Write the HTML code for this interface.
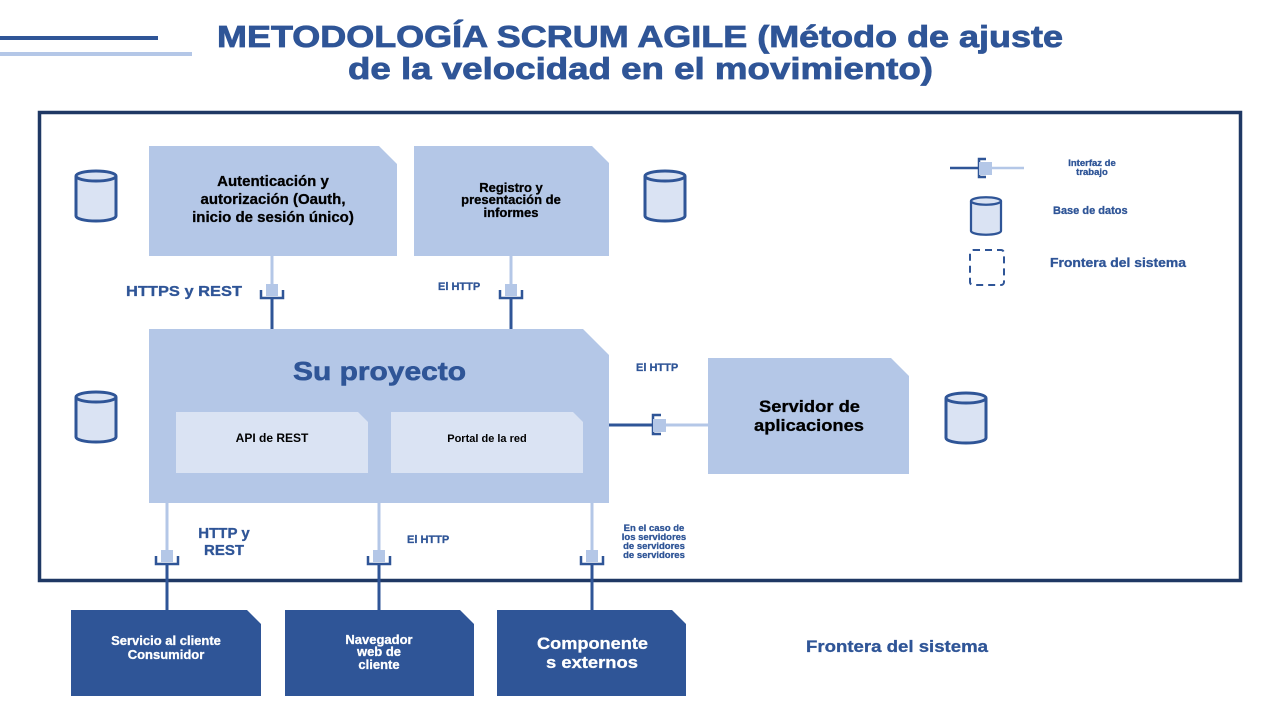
<!DOCTYPE html>
<html><head><meta charset="utf-8"><style>
html,body{margin:0;padding:0;background:#fff;}
svg{display:block;font-family:"Liberation Sans",sans-serif;font-weight:bold;}
</style></head><body>
<svg width="1280" height="720" viewBox="0 0 1280 720" xmlns="http://www.w3.org/2000/svg">
<defs>
<g id="cyl">
<path d="M-20,-20 L-20,20 A20,5 0 0 0 20,20 L20,-20" fill="#dae3f3" stroke="#2f5597" stroke-width="3"/>
<ellipse cx="0" cy="-20" rx="20" ry="5" fill="#dae3f3" stroke="#2f5597" stroke-width="3"/>
</g>
<g id="plugHead">
<rect x="-6" y="-6" width="12" height="12" fill="#b4c7e7"/>
<path d="M-11,0 L-11,8 L11,8 L11,0" fill="none" stroke="#2f5597" stroke-width="2.5"/>
</g>
</defs>
<rect width="1280" height="720" fill="#fff"/>
<line x1="0" y1="38" x2="158" y2="38" stroke="#2f5597" stroke-width="4"/>
<line x1="0" y1="54" x2="192" y2="54" stroke="#b4c7e7" stroke-width="4"/>
<g fill="#2f5597" stroke="#2f5597" stroke-width="0.8">
<text x="217" y="47" font-size="31" textLength="846" lengthAdjust="spacingAndGlyphs">METODOLOGÍA SCRUM AGILE (Método de ajuste</text>
<text x="348" y="79" font-size="31" textLength="585" lengthAdjust="spacingAndGlyphs">de la velocidad en el movimiento)</text>
</g>

<rect x="39.5" y="112.5" width="1201" height="468" fill="none" stroke="#1f3864" stroke-width="3.5"/>

<polygon points="149,146 379,146 397,164 397,256 149,256" fill="#b4c7e7"/>
<text text-anchor="middle" font-size="15" fill="#000" stroke="#000" stroke-width="0.3"><tspan x="273" y="186">Autenticación y</tspan><tspan x="273" y="204">autorización (Oauth,</tspan><tspan x="273" y="222">inicio de sesión único)</tspan></text>
<polygon points="414,146 592,146 609,163 609,256 414,256" fill="#b4c7e7"/>
<text text-anchor="middle" font-size="13" fill="#000" stroke="#000" stroke-width="0.3"><tspan x="511" y="192">Registro y</tspan><tspan x="511" y="204">presentación de</tspan><tspan x="511" y="217">informes</tspan></text>

<polygon points="149,329 583,329 609,355 609,503 149,503" fill="#b4c7e7"/>
<text x="293" y="380" font-size="26" fill="#2f5597" stroke="#2f5597" stroke-width="0.6" textLength="173" lengthAdjust="spacingAndGlyphs">Su proyecto</text>
<polygon points="176,412 358,412 368,422 368,473 176,473" fill="#dae3f3"/>
<text x="272" y="442" text-anchor="middle" font-size="12" fill="#000">API de REST</text>
<polygon points="391,412 573,412 583,422 583,473 391,473" fill="#dae3f3"/>
<text x="487" y="442" text-anchor="middle" font-size="11" fill="#000">Portal de la red</text>

<polygon points="708,358 891,358 909,376 909,474 708,474" fill="#b4c7e7"/>
<text font-size="17" fill="#000" stroke="#000" stroke-width="0.3"><tspan x="759" y="412" textLength="101" lengthAdjust="spacingAndGlyphs">Servidor de</tspan><tspan x="754" y="431" textLength="110" lengthAdjust="spacingAndGlyphs">aplicaciones</tspan></text>

<polygon points="71,610 247,610 261,624 261,696 71,696" fill="#2f5597"/>
<text text-anchor="middle" font-size="13" fill="#fff" stroke="#fff" stroke-width="0.3"><tspan x="166" y="645">Servicio al cliente</tspan><tspan x="166" y="659">Consumidor</tspan></text>
<polygon points="285,610 460,610 474,624 474,696 285,696" fill="#2f5597"/>
<text text-anchor="middle" font-size="13" fill="#fff" stroke="#fff" stroke-width="0.3"><tspan x="379" y="644">Navegador</tspan><tspan x="379" y="656">web de</tspan><tspan x="379" y="669">cliente</tspan></text>
<polygon points="497,610 672,610 686,624 686,696 497,696" fill="#2f5597"/>
<text font-size="17" fill="#fff" stroke="#fff" stroke-width="0.3"><tspan x="537" y="649" textLength="111" lengthAdjust="spacingAndGlyphs">Componente</tspan><tspan x="546" y="668" textLength="92" lengthAdjust="spacingAndGlyphs">s externos</tspan></text>

<use href="#cyl" x="96" y="196"/>
<use href="#cyl" x="665" y="196"/>
<use href="#cyl" x="96" y="417"/>
<use href="#cyl" x="966" y="418"/>
<g transform="translate(986,216) scale(0.75)"><use href="#cyl"/></g>

<!-- top connectors -->
<g stroke-width="3">
<line x1="272" y1="256" x2="272" y2="284" stroke="#b4c7e7"/>
<line x1="272" y1="298" x2="272" y2="329" stroke="#2f5597"/>
<line x1="511" y1="256" x2="511" y2="284" stroke="#b4c7e7"/>
<line x1="511" y1="298" x2="511" y2="329" stroke="#2f5597"/>
<line x1="167" y1="503" x2="167" y2="550" stroke="#b4c7e7"/>
<line x1="167" y1="564" x2="167" y2="610" stroke="#2f5597"/>
<line x1="379" y1="503" x2="379" y2="550" stroke="#b4c7e7"/>
<line x1="379" y1="564" x2="379" y2="610" stroke="#2f5597"/>
<line x1="592" y1="503" x2="592" y2="550" stroke="#b4c7e7"/>
<line x1="592" y1="564" x2="592" y2="610" stroke="#2f5597"/>
</g>
<use href="#plugHead" x="272" y="290"/>
<use href="#plugHead" x="511" y="290"/>
<use href="#plugHead" x="167" y="556"/>
<use href="#plugHead" x="379" y="556"/>
<use href="#plugHead" x="592" y="556"/>

<line x1="609" y1="425" x2="653" y2="425" stroke="#2f5597" stroke-width="3"/>
<path d="M661,415 L653,415 L653,434 L661,434" fill="none" stroke="#2f5597" stroke-width="2.5"/>
<rect x="653" y="419" width="13" height="13" fill="#b4c7e7"/>
<line x1="666" y1="425" x2="708" y2="425" stroke="#b4c7e7" stroke-width="3"/>

<line x1="950" y1="168" x2="978" y2="168" stroke="#2f5597" stroke-width="2.5"/>
<path d="M986,159 L979,159 L979,177 L986,177" fill="none" stroke="#2f5597" stroke-width="2.5"/>
<rect x="979" y="162" width="13" height="13" fill="#b4c7e7"/>
<line x1="992" y1="168" x2="1024" y2="168" stroke="#b4c7e7" stroke-width="2.5"/>
<rect x="970" y="250" width="34" height="35" rx="3" fill="none" stroke="#2f5597" stroke-width="2" stroke-dasharray="7,5"/>

<g fill="#2f5597" stroke="#2f5597" stroke-width="0.3">
<text x="1092" y="166" text-anchor="middle" font-size="9.5">Interfaz de</text>
<text x="1092" y="175" text-anchor="middle" font-size="9.5">trabajo</text>
<text x="1053" y="214" font-size="11">Base de datos</text>
<text x="1050" y="267" font-size="12.5" textLength="136" lengthAdjust="spacingAndGlyphs">Frontera del sistema</text>
<text x="126" y="296" font-size="15" textLength="116" lengthAdjust="spacingAndGlyphs">HTTPS y REST</text>
<text x="438" y="290" font-size="11">El HTTP</text>
<text x="636" y="371" font-size="11">El HTTP</text>
<text x="224" y="538" text-anchor="middle" font-size="15">HTTP y</text>
<text x="224" y="555" text-anchor="middle" font-size="15">REST</text>
<text x="407" y="543" font-size="11">El HTTP</text>
<text text-anchor="middle" font-size="9.5"><tspan x="654" y="531">En el caso de</tspan><tspan x="654" y="540">los servidores</tspan><tspan x="654" y="549">de servidores</tspan><tspan x="654" y="558">de servidores</tspan></text>
<text x="806" y="652" font-size="17" textLength="182" lengthAdjust="spacingAndGlyphs">Frontera del sistema</text>
</g>
</svg>
</body></html>
